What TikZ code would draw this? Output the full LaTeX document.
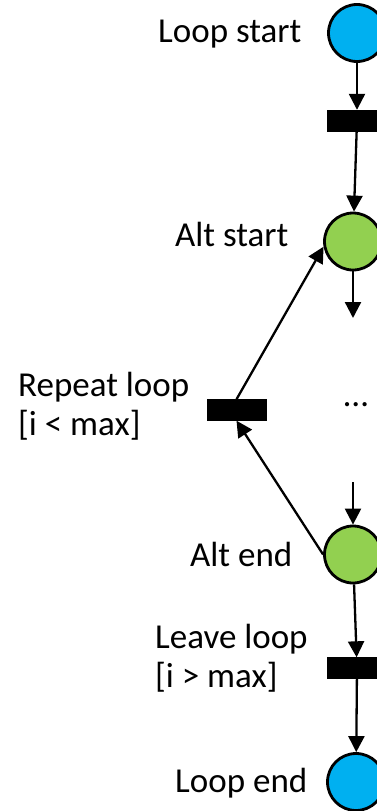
\documentclass[tikz,border=0pt]{standalone}
\usepackage{fontspec}
\setmainfont{Carlito}
\usetikzlibrary{arrows.meta}
\definecolor{placeblue}{HTML}{00B0F0}
\definecolor{placegreen}{HTML}{92D050}
\begin{document}
\begin{tikzpicture}[x=1pt,y=-1pt,
  every node/.style={font=\fontsize{35}{39}\selectfont},
  place/.style={circle,draw=black,line width=2.8pt,minimum size=57pt,inner sep=0pt},
  startend/.style={place,fill=placeblue},
  altplace/.style={place,fill=placegreen},
  trans/.style={rectangle,fill=black,draw=black,minimum width=59pt,minimum height=21pt,inner sep=0pt},
  lbl/.style={anchor=base west,inner sep=0pt,align=left},
  flow/.style={line width=2.3pt,-{Triangle[length=16pt,width=16pt]}}]
\useasboundingbox (0,0) rectangle (376,811);

% places and transitions
\node[startend] (ls) at (357,33) {};
\node[trans] (t1) at (357,120.5) {};
\node[altplace] (as) at (353,241.5) {};
\coordinate (c1) at (353,318);
\node[inner sep=0pt] (dots) at (356,405) {…};
\coordinate (c2) at (353,482);
\node[altplace] (ae) at (353,554.5) {};
\node[trans] (t2) at (236.5,410) {};
\node[trans] (t3) at (357,668) {};
\node[startend] (le) at (356,782) {};

% labels (two-line labels are anchored at the baseline of their last line)
\node[lbl] (lls) at (158,42) {Loop start};
\node[lbl] (las) at (175,246) {Alt start};
\node[lbl] (lrl) at (18,435) {Repeat loop\\{}[i < max]};
\node[lbl] (lae) at (190,566) {Alt end};
\node[lbl] (lll) at (155,687) {Leave loop\\{}[i > max]};
\node[lbl] (lle) at (175,792) {Loop end};

% arcs
\draw[flow] (ls) -- (t1);
\draw[flow] (t1) -- (as);
\draw[flow] (as) -- (c1);
\draw[flow] (c2) -- (ae);
\draw[flow] (ae) -- (t3);
\draw[flow] (t3) -- (le);
\draw[flow] (t2.north) -- (as.190);
\draw[flow] (ae.west) -- (t2.south);
\end{tikzpicture}
\end{document}
